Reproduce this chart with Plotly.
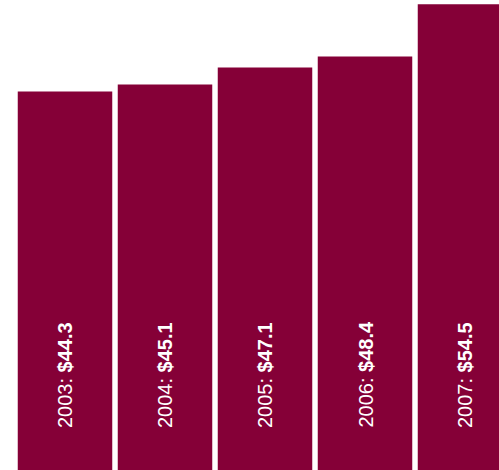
import plotly.graph_objects as go

years = ["2003", "2004", "2005", "2006", "2007"]
values = [44.3, 45.1, 47.1, 48.4, 54.5]
bar_color = "rgb(133,0,55)"

fig = go.Figure()
fig.add_trace(go.Bar(
    x=years,
    y=values,
    marker=dict(color=bar_color, line=dict(width=0)),
    hoverinfo="skip",
))

for i, (yr, v) in enumerate(zip(years, values)):
    fig.add_annotation(
        x=i, y=0, xref="x", yref="paper",
        text=f"{yr}: <b>${v}</b>",
        textangle=-90,
        showarrow=False,
        xanchor="center", yanchor="bottom",
        yshift=40,
        font=dict(family="Liberation Sans Narrow, Arial Narrow, sans-serif", size=20, color="white"),
    )

fig.update_layout(
    width=499, height=470,
    margin=dict(l=0, r=0, t=0, b=0),
    paper_bgcolor="white", plot_bgcolor="white",
    bargap=0.055,
    showlegend=False,
    xaxis=dict(type="category", range=[-0.65, 4.34], visible=False, fixedrange=True),
    yaxis=dict(range=[0, 55.0], visible=False, fixedrange=True),
)

fig.write_html(
    "out.html",
    config={"displayModeBar": False},
    post_script="document.body.style.margin='0';document.body.style.overflow='hidden';",
)
